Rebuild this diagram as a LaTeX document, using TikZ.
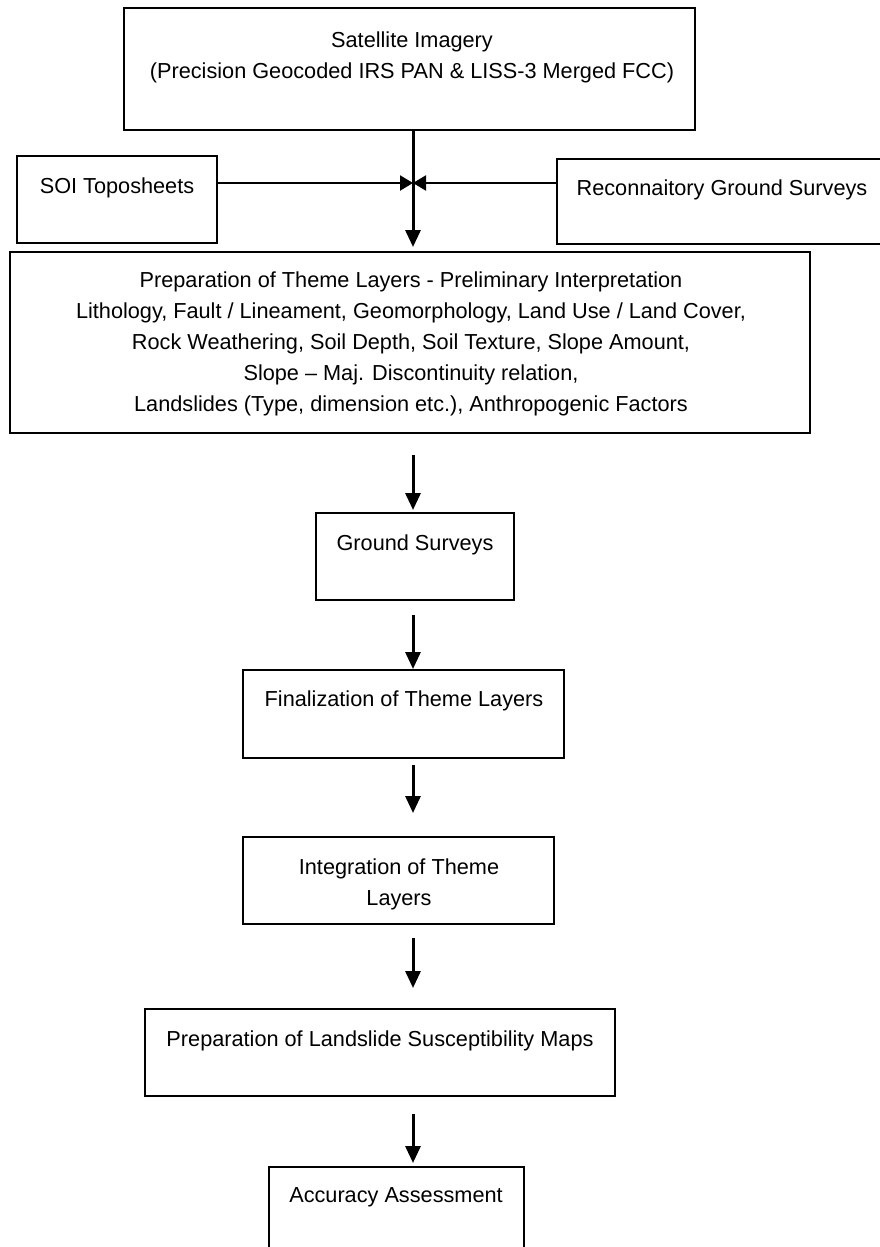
\documentclass[tikz,border=0pt]{standalone}
\usepackage{fontspec}
\setmainfont{Liberation Sans}
\usetikzlibrary{arrows.meta,fit}
\begin{document}
\begin{tikzpicture}[x=1pt,y=-1pt,
  box/.style={draw=black, line width=2pt, inner sep=0pt, outer sep=0pt},
  txt/.style={font=\fontsize{21.7}{31}\selectfont, align=center, inner sep=0pt},
  varr/.style={line width=3pt, -{Triangle[length=17pt,width=15pt]}},
  harr/.style={line width=2.2pt, -{Triangle[length=13pt,width=15pt]}}]
\useasboundingbox[fill=white] (0,0) rectangle (879,1247);
% boxes
\node[box, fit={(124,8)(695,130)}] (sat) {};
\node[box, fit={(17,156)(217,243)}] (soi) {};
\node[box, fit={(557,159)(888,244)}] (rec) {};
\node[box, fit={(10,252)(810,433)}] (big) {};
\node[box, fit={(316,513)(514,600)}] (gs) {};
\node[box, fit={(243,670)(564,758)}] (fin) {};
\node[box, fit={(243,837)(554,924)}] (int) {};
\node[box, fit={(145,1009)(615,1096)}] (land) {};
\node[box, fit={(269,1167)(524,1265)}] (acc) {};
% texts
\node[txt] (satT) at (412,57) {Satellite Imagery\\(Precision Geocoded IRS PAN \& LISS-3 Merged FCC)};
\node[txt] (soiT) at (117,188) {SOI Toposheets};
\node[txt] (recT) at (722,190) {Reconnaitory Ground Surveys};
\node[txt] (bigT) at (411,344) {Preparation of Theme Layers - Preliminary Interpretation\\
Lithology, Fault / Lineament, Geomorphology, Land Use / Land Cover,\\
Rock Weathering, Soil Depth, Soil Texture, Slope Amount,\\
Slope -- Maj. Discontinuity relation,\\
Landslides (Type, dimension etc.), Anthropogenic Factors};
\node[txt] (gsT) at (415,545) {Ground Surveys};
\node[txt] (finT) at (404,701) {Finalization of Theme Layers};
\node[txt] (intT) at (399,884) {Integration of Theme\\Layers};
\node[txt] (landT) at (380,1041) {Preparation of Landslide Susceptibility Maps};
\node[txt] (accT) at (396,1197) {Accuracy Assessment};
% connectors
\coordinate (ax) at (413,183);
\draw[varr, shorten >=5pt] (sat.south -| ax) -- (big.north -| ax);
\draw[harr] (soi.east |- ax) -- (ax);
\draw[harr] (rec.west |- ax) -- (ax);
\draw[varr, shorten <=22pt, shorten >=3pt] (big.south -| ax) -- (gs.north -| ax);
\draw[varr, shorten <=15pt, shorten >=1pt] (gs.south -| ax) -- (fin.north -| ax);
\draw[varr, shorten <=7pt, shorten >=24pt] (fin.south -| ax) -- (int.north -| ax);
\draw[varr, shorten <=14pt, shorten >=21pt] (int.south -| ax) -- (land.north -| ax);
\draw[varr, shorten <=18pt, shorten >=4pt] (land.south -| ax) -- (acc.north -| ax);
\end{tikzpicture}
\end{document}
